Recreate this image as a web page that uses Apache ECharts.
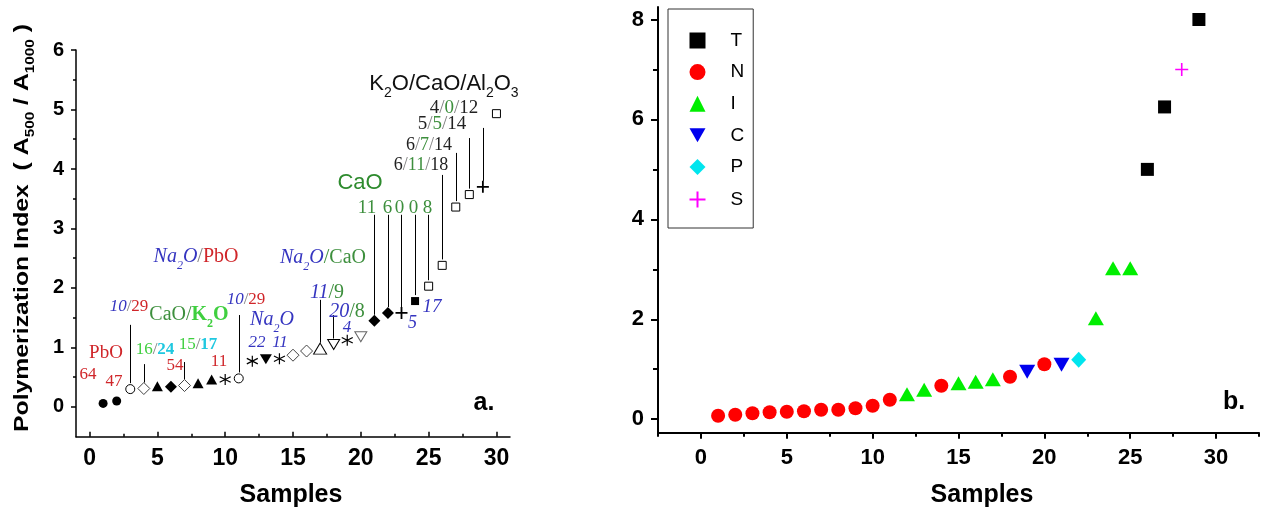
<!DOCTYPE html>
<html><head><meta charset="utf-8">
<script src="https://cdn.jsdelivr.net/npm/echarts@6/dist/echarts.min.js"></script>
<style>html,body{margin:0;padding:0;background:#fff}#c{width:1275px;height:513px}</style>
</head><body><div id="c"></div>
<script>
// ---------- Panel a data ----------
const samplesA = [1,2,3,4,5,6,7,8,9,10,11,12,13,14,15,16,17,18,19,20,21,22,23,24,25,26,27,28,29,30];
const indexA = [0.06,0.10,0.30,0.31,0.35,0.34,0.36,0.40,0.46,0.46,0.48,0.77,0.80,0.81,0.87,0.94,0.98,1.05,1.12,1.18,1.45,1.58,1.58,1.78,2.03,2.38,3.36,3.57,3.70,4.93];
const markersA = ['dotF','dotF','dotO','diaO','triF','diaF','diaO','triF','triF','star','dotO','star','tdnF','star','diaO','diaO','triO','tdnO','star','tdnG','diaF','diaF','plus','sqF','sqO','sqO','sqO','sqO','plus','sqO'];
const leaderSamplesA = [3,4,7,11,17,18,21,22,23,24,25,26,27,28,29];
const leaderTopsA = [1.38,0.72,0.755,1.545,1.80,1.545,3.23,3.23,3.23,3.23,3.23,3.90,4.27,4.52,4.69];
const xTicksA = [0,5,10,15,20,25,30];
const xMinorA = [2.5,7.5,12.5,17.5,22.5,27.5];
const yTicksA = [0,1,2,3,4,5,6];
const yMinorA = [0.5,1.5,2.5,3.5,4.5,5.5];

// ---------- Panel b data ----------
const samplesB = [1,2,3,4,5,6,7,8,9,10,11,12,13,14,15,16,17,18,19,20,21,22,23,24,25,26,27,28,29];
const indexB = [0.07,0.09,0.12,0.14,0.15,0.16,0.19,0.19,0.22,0.27,0.39,0.50,0.59,0.67,0.72,0.75,0.80,0.85,0.95,1.10,1.09,1.19,2.02,3.02,3.02,5.00,6.25,7.00,8.00];
const classB = ['N','N','N','N','N','N','N','N','N','N','N','I','I','N','I','I','I','N','C','N','C','P','I','I','I','T','T','S','T'];
const classNames = ['T','N','I','C','P','S'];
const xTicksB = [0,5,10,15,20,25,30];
const xMinorB = [-2.5,2.5,7.5,12.5,17.5,22.5,27.5,32.5];
const yTicksB = [0,2,4,6,8];
const yMinorB = [1,3,5,7];

// ---------- styles ----------
const SANS = 'Liberation Sans', SERIF = 'Liberation Serif';
const DOWN = 'path://M-5,-4.33L5,-4.33L0,4.33Z';
const STAR = 'path://M0,-5L0,5M-4.33,-2.5L4.33,2.5M-4.33,2.5L4.33,-2.5';
const PLUS = 'path://M0,-5L0,5M-5,0L5,0';
const SYM = {
  dotF:{symbol:'circle',size:9,color:'#000'},
  dotO:{symbol:'circle',size:9,color:'#fff',border:'#000',bw:1},
  diaO:{symbol:'diamond',size:12,color:'#fff',border:'#444',bw:1},
  diaF:{symbol:'diamond',size:12,color:'#000'},
  triF:{symbol:'triangle',size:[11,10],color:'#000'},
  triO:{symbol:'triangle',size:[13,11],color:'#fff',border:'#000',bw:1},
  tdnF:{symbol:DOWN,size:[12,10],color:'#000'},
  tdnO:{symbol:DOWN,size:[12,10],color:'#fff',border:'#000',bw:1},
  tdnG:{symbol:DOWN,size:[12,10],color:'#fff',border:'#666',bw:1},
  star:{symbol:STAR,size:11,color:'none',border:'#000',bw:1.2},
  plus:{symbol:PLUS,size:12,color:'none',border:'#000',bw:1.8},
  sqF:{symbol:'rect',size:8,color:'#000'},
  sqO:{symbol:'rect',size:8,color:'#fff',border:'#000',bw:1}
};
const CLS = {
  T:{symbol:'rect',size:13,color:'#000'},
  N:{symbol:'circle',size:14,color:'#ff0000'},
  I:{symbol:'triangle',size:[16,14],color:'#00ee00'},
  C:{symbol:DOWN,size:[16,14],color:'#0000ee'},
  P:{symbol:'diamond',size:[15,16],color:'#00e5ee'},
  S:{symbol:PLUS,size:13,color:'none',border:'#ff00ff',bw:1.6}
};

const BLUE='#3535c0', RED='#d0262a', DGREEN='#3d8f3d', LGREEN='#3fcf3f', CYAN='#20c8e0';
function R(fs){
  const base={fontFamily:SERIF,fontSize:fs,lineHeight:Math.round(fs*1.5)};
  const sub={fontFamily:SERIF,fontSize:Math.round(fs*0.62),lineHeight:Math.round(fs*0.62),verticalAlign:'bottom'};
  const sbase={fontFamily:SANS,fontSize:fs,lineHeight:Math.round(fs*1.5)};
  const ssub={fontFamily:SANS,fontSize:Math.round(fs*0.62),lineHeight:Math.round(fs*0.62),verticalAlign:'bottom'};
  const mk=(b,o)=>Object.assign({},b,o);
  return {
    b:mk(base,{fill:BLUE,fontStyle:'italic'}),
    bs:mk(sub,{fill:BLUE,fontStyle:'italic'}),
    r:mk(base,{fill:RED}),
    g:mk(base,{fill:DGREEN}),
    lg:mk(base,{fill:LGREEN}),
    gb:mk(base,{fill:LGREEN,fontWeight:'bold'}),
    gbs:mk(sub,{fill:LGREEN,fontWeight:'bold'}),
    c:mk(base,{fill:CYAN,fontWeight:'bold'}),
    k:mk(base,{fill:'#222'}),
    s:mk(base,{fill:'#808080'}),
    a:mk(sbase,{fill:'#111'}),
    as:mk(ssub,{fill:'#111'}),
    ag:mk(sbase,{fill:'#2e8b2e'})
  };
}
// annotation texts (layout): x px, y px, font size, rich text
const annA = [
  [106,353,19,'{r|PbO}'],
  [88,375,17,'{r|64}'],
  [114,382,17,'{r|47}'],
  [129,307,17,'{b|10}{s|/}{r|29}'],
  [189,315,20,'{g|CaO/}{gb|K}{gbs|2}{gb|O}'],
  [155,350,17,'{lg|16}{s|/}{c|24}'],
  [198,345,17,'{lg|15}{s|/}{c|17}'],
  [175,366,17,'{r|54}'],
  [219,362,17,'{r|11}'],
  [196,257,20,'{b|Na}{bs|2}{b|O}{s|/}{r|PbO}'],
  [246,300,17,'{b|10}{s|/}{r|29}'],
  [272,320,20,'{b|Na}{bs|2}{b|O}'],
  [257,343,17,'{b|22}'],
  [280,343,17,'{b|11}'],
  [323,258,20,'{b|Na}{bs|2}{b|O}{g|/CaO}'],
  [327,293,20,'{b|11}{g|/9}'],
  [347,312,20,'{b|20}{g|/8}'],
  [347,328,17,'{b|4}'],
  [360,183,22,'{ag|CaO}'],
  [367,208,19,'{g|11}'],[387.5,208,19,'{g|6}'],[399.5,208,19,'{g|0}'],[413.5,208,19,'{g|0}'],[427.5,208,19,'{g|8}'],
  [412.5,323,18,'{b|5}'],
  [432,307,19,'{b|17}'],
  [421,165,18,'{k|6}{s|/}{g|11}{s|/}{k|18}'],
  [429,145,18,'{k|6}{s|/}{g|7}{s|/}{k|14}'],
  [442,124,19,'{k|5}{s|/}{g|5}{s|/}{k|14}'],
  [454,108,19,'{k|4}{s|/}{g|0}{s|/}{k|12}'],
  [444,84,22,'{a|K}{as|2}{a|O/CaO/Al}{as|2}{a|O}{as|3}']
];

const chart = echarts.init(document.getElementById('c'), null, {renderer:'canvas'});

function styleOf(m){
  const st={color:m.color,opacity:1};
  if(m.border){st.borderColor=m.border;st.borderWidth=m.bw;}
  return st;
}
const series=[];
// leader lines (panel a)
series.push({
  type:'lines', coordinateSystem:'cartesian2d', xAxisIndex:0, yAxisIndex:0, z:1,
  lineStyle:{color:'#000',width:1,opacity:1}, silent:true,
  data: leaderSamplesA.map((s,i)=>({coords:[[s, indexA[samplesA.indexOf(s)]+0.1],[s, leaderTopsA[i]]]}))
});
// markers panel a
const keysA=[...new Set(markersA)];
keysA.forEach(k=>{
  const m=SYM[k];
  series.push({
    type:'scatter', xAxisIndex:0, yAxisIndex:0, z:3, symbol:m.symbol, symbolSize:m.size, symbolKeepAspect:false,
    itemStyle:styleOf(m), silent:true,
    data: samplesA.map((s,i)=>[s,indexA[i],markersA[i]]).filter(d=>d[2]===k).map(d=>[d[0],d[1]])
  });
});
// panel b
classNames.forEach(c=>{
  const m=CLS[c];
  series.push({
    name:c, type:'scatter', xAxisIndex:2, yAxisIndex:2, z:3, symbol:m.symbol, symbolSize:m.size,
    itemStyle:styleOf(m), silent:true,
    data: samplesB.map((s,i)=>[s,indexB[i],classB[i]]).filter(d=>d[2]===c).map(d=>[d[0],d[1]])
  });
});

function xAx(grid,min,max,ticks,minor,inside,len,mlen,lw,fs,margin){
  return [
    {gridIndex:grid,type:'value',min:min,max:max,position:'bottom',
     axisLine:{show:true,onZero:false,lineStyle:{color:'#000',width:lw}},
     axisTick:{show:true,inside:inside,length:len,customValues:ticks,lineStyle:{color:'#000',width:lw}},
     axisLabel:{show:true,customValues:ticks,fontSize:fs,margin:margin,fontFamily:SANS,fontWeight:'bold',color:'#000'},
     splitLine:{show:false}},
    {gridIndex:grid,type:'value',min:min,max:max,position:'bottom',
     axisLine:{show:false,onZero:false},
     axisTick:{show:true,inside:inside,length:mlen,customValues:minor,lineStyle:{color:'#000',width:lw}},
     axisLabel:{show:false},splitLine:{show:false}}
  ];
}
function yAx(grid,min,max,ticks,minor,len,mlen,lw,fs,margin){
  return [
    {gridIndex:grid,type:'value',min:min,max:max,position:'left',
     axisLine:{show:true,onZero:false,lineStyle:{color:'#000',width:lw}},
     axisTick:{show:true,inside:false,length:len,customValues:ticks,lineStyle:{color:'#000',width:lw}},
     axisLabel:{show:true,customValues:ticks,fontSize:fs,margin:margin,fontFamily:SANS,fontWeight:'bold',color:'#000'},
     splitLine:{show:false}},
    {gridIndex:grid,type:'value',min:min,max:max,position:'left',offset:0,
     axisLine:{show:false,onZero:false},
     axisTick:{show:true,inside:false,length:mlen,customValues:minor,lineStyle:{color:'#000',width:lw}},
     axisLabel:{show:false},splitLine:{show:false}}
  ];
}

const graphics = annA.map(a=>({type:'text',x:a[0],y:a[1],silent:true,z:10,
  style:{text:a[3],rich:R(a[2]),align:'center',verticalAlign:'middle'}}));
const titleRich = {
  t:{fontFamily:SANS,fontWeight:'bold',fontSize:21,lineHeight:30,fill:'#000'},
  s:{fontFamily:SANS,fontWeight:'bold',fontSize:13,lineHeight:13,verticalAlign:'bottom',fill:'#000'}
};
graphics.push({type:'text',x:22,y:228,rotation:Math.PI/2,scaleX:1.18,silent:true,
  style:{text:'{t|Polymerization Index  ( A}{s|500}{t| / A}{s|1000}{t| )}',rich:titleRich,align:'center',verticalAlign:'middle'}});
graphics.push({type:'text',x:291,y:495,silent:true,style:{text:'Samples',fontFamily:SANS,fontWeight:'bold',fontSize:25,fill:'#000',align:'center',verticalAlign:'middle'}});
graphics.push({type:'text',x:982,y:495,silent:true,style:{text:'Samples',fontFamily:SANS,fontWeight:'bold',fontSize:25,fill:'#000',align:'center',verticalAlign:'middle'}});
graphics.push({type:'text',x:484,y:403,silent:true,style:{text:'a.',fontFamily:SANS,fontWeight:'bold',fontSize:25,fill:'#000',align:'center',verticalAlign:'middle'}});
graphics.push({type:'text',x:1234,y:402,silent:true,style:{text:'b.',fontFamily:SANS,fontWeight:'bold',fontSize:25,fill:'#000',align:'center',verticalAlign:'middle'}});

chart.setOption({
  animation:false,
  backgroundColor:'#fff',
  grid:[
    {left:76,top:50,width:434,height:386.7},
    {left:658,top:7,width:601,height:425.7}
  ],
  xAxis:[].concat(
    xAx(0,-1,31,xTicksA,xMinorA,true,5,3,1.5,23,10),
    xAx(1,-2.5,32.5,xTicksB,xMinorB,false,6,4,2,22,14)
  ),
  yAxis:[].concat(
    yAx(0,-0.5,6,yTicksA,yMinorA,5,3,1.5,20,12),
    yAx(1,-0.27,8.25,yTicksB,yMinorB,7,5,2,22,14)
  ),
  legend:{show:true,orient:'vertical',left:668,top:9,padding:[22,9,18,19],itemWidth:16,itemHeight:16,itemGap:12.6,
    borderColor:'#333',borderWidth:1,selectedMode:false,symbolKeepAspect:true,
    textStyle:{fontFamily:SANS,fontSize:19,color:'#000',lineHeight:18,padding:[0,0,0,20]},
    data:classNames},
  graphic:graphics,
  series:series
});
</script></body></html>
